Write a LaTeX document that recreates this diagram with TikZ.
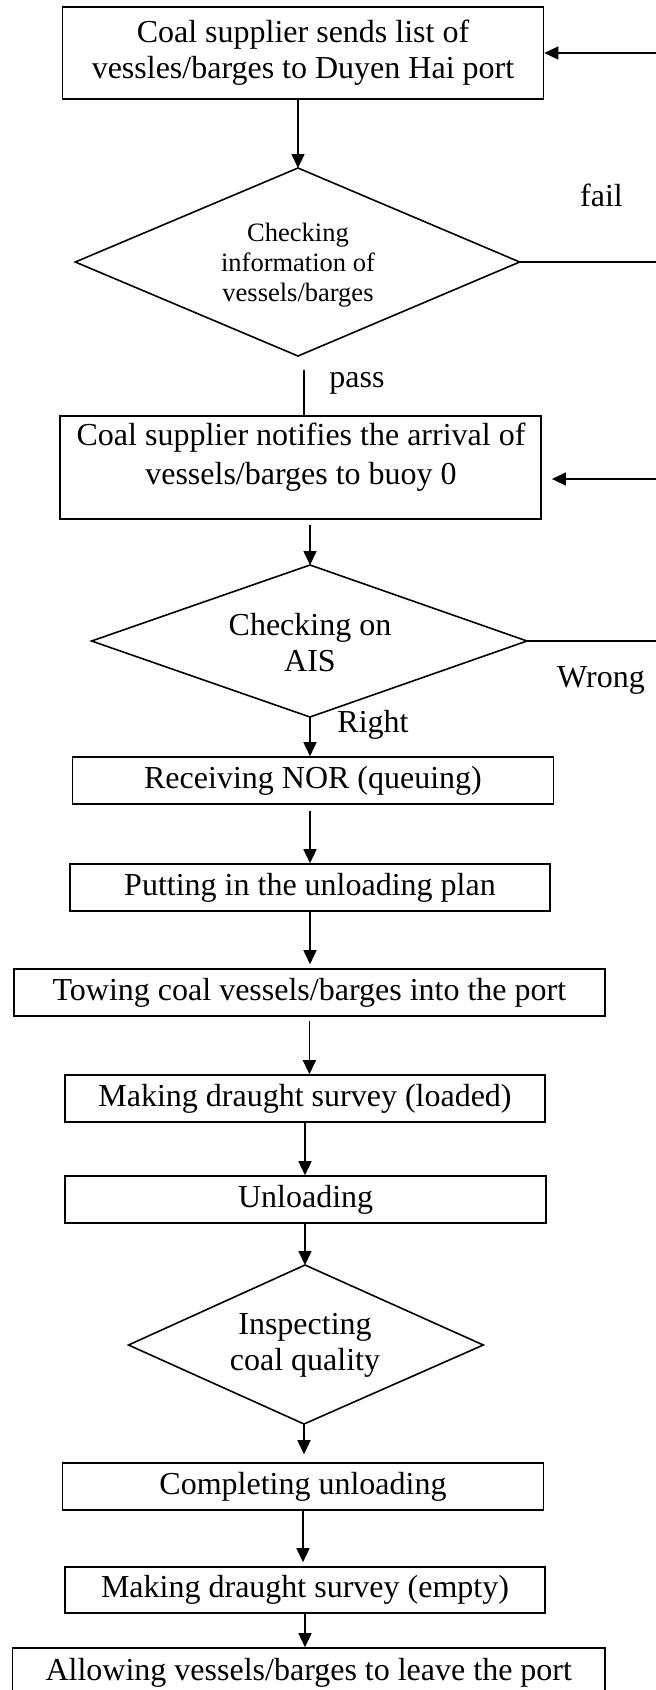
\documentclass[tikz,border=0pt]{standalone}
\usepackage{fontspec}
\setmainfont{Liberation Serif}
\usetikzlibrary{arrows.meta}
\newcommand\bigtxt{\fontsize{32}{36}\selectfont}
\newcommand\smtxt{\fontsize{26.5}{30}\selectfont}
\tikzset{
  box/.style={draw, line width=1.6pt, rectangle, inner sep=0pt, align=center, font=\bigtxt},
  dtext/.style={inner sep=0pt, align=center, font=\bigtxt},
  arr/.style={-{Triangle[length=14pt,width=13pt]}, line width=1.6pt},
  ln/.style={line width=1.6pt, line join=miter},
  lbl/.style={inner sep=0pt, font=\bigtxt}
}
\begin{document}
\begin{tikzpicture}[x=1pt,y=-1pt]
\useasboundingbox (0,0) rectangle (656,1690);
\clip (0,0) rectangle (656,1690);
% diamond corners
\coordinate (d1n) at (298,168);   \coordinate (d1e) at (519.7,262);
\coordinate (d1s) at (298,356);   \coordinate (d1w) at (75.3,262);
\coordinate (d2n) at (310,565);   \coordinate (d2e) at (527,641);
\coordinate (d2s) at (310,717);   \coordinate (d2w) at (91.6,641);
\coordinate (d3n) at (305,1265);  \coordinate (d3e) at (483.3,1345);
\coordinate (d3s) at (304,1424);  \coordinate (d3w) at (128.5,1345);
% nodes
\node[box, minimum width=481pt, minimum height=92pt] (b1) at (303,53) {Coal supplier sends list of\\vessles/barges to Duyen Hai port};
\draw[ln] (d1n) -- (d1e) -- (d1s) -- (d1w) -- cycle;
\node[dtext, font=\smtxt] (d1) at (298,265) {Checking\\information of\\vessels/barges};
\node[box, minimum width=481pt, minimum height=103pt] (b2) at (300.6,467.5) {};
\node[lbl, align=center, font=\fontsize{32}{39}\selectfont] (b2t) at (301,457.5) {Coal supplier notifies the arrival of\\vessels/barges to buoy 0};
\draw[ln] (d2n) -- (d2e) -- (d2s) -- (d2w) -- cycle;
\node[dtext] (d2) at (310,643) {Checking on\\AIS};
\node[box, minimum width=480.7pt, minimum height=47pt] (b3) at (313,780.5) {Receiving NOR (queuing)};
\node[box, minimum width=479.5pt, minimum height=47pt] (b4) at (310,887.5) {Putting in the unloading plan};
\node[box, minimum width=591.2pt, minimum height=47pt] (b5) at (309.4,992.5) {Towing coal vessels/barges into the port};
\node[box, minimum width=479.5pt, minimum height=47pt] (b6) at (305,1098.5) {Making draught survey (loaded)};
\node[box, minimum width=480.7pt, minimum height=47pt] (b7) at (305.6,1199.5) {Unloading};
\draw[ln] (d3n) -- (d3e) -- (d3s) -- (d3w) -- cycle;
\node[dtext] (d3) at (305,1345) {Inspecting\\coal quality};
\node[box, minimum width=480.7pt, minimum height=47pt] (b8) at (303,1486.5) {Completing unloading};
\node[box, minimum width=479.5pt, minimum height=46pt] (b9) at (305,1590) {Making draught survey (empty)};
\node[box, minimum width=592.4pt, minimum height=50pt] (b10) at (308.8,1673) {Allowing vessels/barges to leave the port};
% labels
\node[lbl] (lfail) at (601.5,195) {fail};
\node[lbl] (lpass) at (357,383) {pass};
\node[lbl] (lwrong) at (601,680) {Wrong};
\node[lbl] (lright) at (373,725) {Right};
% edge coordinates
\coordinate (r1) at (660,53);
\coordinate (f1) at (660,262);
\coordinate (r2) at (660,479);
\coordinate (w1) at (660,641);
\coordinate (p1) at (303.8,370);
% connectors
\draw[arr] (d1n |- b1.south) -- (d1n);
\draw[ln] (d1e) -- (f1);
\draw[arr] (r1) -- (b1.east);
\draw[ln] (p1) -- (p1 |- b2.north);
\draw[arr, shorten >=10pt] (r2) -- (r2 -| b2.east);
\draw[arr, shorten <=5pt] (d2n |- b2.south) -- (d2n);
\draw[ln] (d2e) -- (w1);
\draw[arr] (d2s) -- (d2s |- b3.north);
\draw[arr, shorten <=6pt] (b4.north |- b3.south) -- (b4.north);
\draw[arr, shorten >=4pt] (b4.south) -- (b4.south |- b5.north);
\draw[arr, shorten <=4pt] (b5.south) -- (b5.south |- b6.north);
\draw[arr] (b6.south) -- (b6.south |- b7.north);
\draw[arr] (d3n |- b7.south) -- (d3n);
\draw[arr, shorten >=8pt] (d3s) -- (d3s |- b8.north);
\draw[arr, shorten >=4pt] (b8.south) -- (b8.south |- b9.north);
\draw[arr] (b9.south) -- (b9.south |- b10.north);
\end{tikzpicture}
\end{document}
